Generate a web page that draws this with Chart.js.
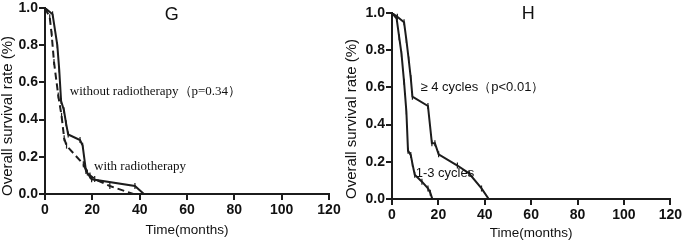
<!DOCTYPE html>
<html><head><meta charset="utf-8">
<script src="https://cdn.jsdelivr.net/npm/chart.js@4/dist/chart.umd.min.js"></script>
<style>
html,body{margin:0;padding:0;background:#fff;}
#wrap{position:relative;width:685px;height:240px;overflow:hidden;}
canvas{position:absolute;top:0;}
</style></head><body>
<div id="wrap">
<canvas id="g" width="345" height="240" style="left:0"></canvas>
<canvas id="h" width="340" height="240" style="left:345px"></canvas>
</div>
<script>
// ---- data ----
const xTicks = [0, 20, 40, 60, 80, 100, 120];
const yTicks = [0.0, 0.2, 0.4, 0.6, 0.8, 1.0];

// Panel G
const gWithoutX = [0, 3.2, 5.2, 6.0, 6.8, 8.0, 8.9, 9.8, 14.8, 15.9, 17.3, 19.7, 38.0, 41.8];
const gWithoutY = [1.0, 0.966, 0.80, 0.67, 0.50, 0.45, 0.38, 0.32, 0.29, 0.26, 0.124, 0.079, 0.043, 0.0];
const gWithX = [0, 2.0, 2.8, 3.8, 5.6, 7.0, 8.1, 9.1, 16.2, 17.9, 19.0, 21.0, 27.4, 37.3];
const gWithY = [1.0, 0.95, 0.86, 0.71, 0.53, 0.42, 0.30, 0.26, 0.16, 0.115, 0.10, 0.08, 0.043, 0.0];

// Panel H
const hLowX = [0, 2.0, 3.1, 4.1, 5.2, 6.2, 6.9, 8.1, 8.8, 9.8, 12.9, 15.5, 16.5, 17.4];
const hLowY = [1.0, 0.97, 0.87, 0.78, 0.63, 0.47, 0.26, 0.236, 0.19, 0.13, 0.093, 0.057, 0.034, 0.0];
const hHighX = [0, 2.3, 5.2, 6.2, 7.2, 8.1, 8.8, 15.5, 17.2, 18.5, 20.1, 28.2, 33.2, 38.6, 41.7];
const hHighY = [1.0, 0.98, 0.95, 0.855, 0.75, 0.65, 0.55, 0.50, 0.30, 0.30, 0.24, 0.18, 0.138, 0.057, 0.0];

const xTitle = 'Time(months)';
const yTitle = 'Overall survival rate (%)';

function pts(xs, ys){ return xs.map((x,i)=>({x:x, y:ys[i]})); }

const INK = '#1c1c1c';

function ds(xs, ys, dashed){
  return {
    data: pts(xs, ys),
    borderColor: INK,
    borderWidth: 2,
    borderDash: dashed ? [7,4] : [],
    tension: 0,
    fill: false,
    pointStyle: 'line',
    rotation: 90,
    pointRadius: (ctx) => (ctx.dataIndex === 0 || ctx.dataIndex === xs.length-1) ? 0 : 3,
    pointBorderWidth: 1.2,
    pointBorderColor: INK,
    pointBackgroundColor: INK
  };
}

// annotation plugin: texts positioned in data coordinates
const textPlugin = {
  id: 'texts',
  afterDraw(chart, args, opts) {
    const ctx = chart.ctx;
    const xs = chart.scales.x, ys = chart.scales.y, ca = chart.chartArea;
    ctx.save();
    ctx.fillStyle = '#111';
    (opts.items || []).forEach(it => {
      ctx.font = it.font;
      ctx.textAlign = it.align || 'left';
      ctx.textBaseline = 'middle';
      ctx.fillText(it.text, xs.getPixelForValue(it.x), ys.getPixelForValue(it.y));
    });
    // axis titles
    ctx.font = '13.5px "Liberation Sans", Arial, sans-serif';
    ctx.textAlign = 'center';
    ctx.textBaseline = 'middle';
    ctx.fillText(xTitle, (ca.left + ca.right)/2, opts.xTitleY);
    ctx.font = '15px "Liberation Sans", Arial, sans-serif';
    ctx.translate(opts.yTitleX, (ca.top + ca.bottom)/2 + opts.yTitleShift);
    ctx.rotate(-Math.PI/2);
    ctx.fillText(yTitle, 0, 0);
    ctx.restore();
  }
};

function makeChart(id, datasets, cfg){
  return new Chart(document.getElementById(id), {
    type: 'line',
    data: { datasets: datasets },
    plugins: [textPlugin],
    options: {
      responsive: false,
      animation: false,
      devicePixelRatio: 1,
      layout: { autoPadding: false, padding: { left: 0, right: cfg.padRight, top: cfg.padTop, bottom: 0 } },
      plugins: { legend: { display: false }, tooltip: { enabled: false }, texts: cfg.texts },
      scales: {
        x: {
          type: 'linear', min: 0, max: 120,
          afterBuildTicks: (s) => { s.ticks = xTicks.map(v => ({value: v})); },
          afterFit: (s) => { s.height = cfg.xHeight; },
          grid: { display: true, drawOnChartArea: false, drawTicks: true, tickLength: 6, color: INK, lineWidth: 2 },
          border: { display: true, color: INK, width: 2 },
          ticks: { color: '#111', padding: 3, maxRotation: 0, font: { family: '"Liberation Sans", Arial, sans-serif', size: 14, weight: 'bold', lineHeight: 1 } }
        },
        y: {
          type: 'linear', min: 0, max: 1,
          afterBuildTicks: (s) => { s.ticks = yTicks.map(v => ({value: v})); },
          afterFit: (s) => { s.width = cfg.yWidth; },
          grid: { display: true, drawOnChartArea: false, drawTicks: true, tickLength: 6, color: INK, lineWidth: 2 },
          border: { display: true, color: INK, width: 2 },
          ticks: { color: '#111', padding: 1, callback: (v) => Number(v).toFixed(1), font: { family: '"Liberation Sans", Arial, sans-serif', size: 14, weight: 'bold', lineHeight: 1 } }
        }
      }
    }
  });
}

makeChart('g', [ds(gWithoutX, gWithoutY, false), ds(gWithX, gWithY, true)], {
  padRight: 16, padTop: 6, xHeight: 46, yWidth: 45,
  texts: {
    xTitleY: 230, yTitleX: 8, yTitleShift: 15,
    items: [
      { text: 'G', x: 53.6, y: 0.963, font: '18px "Liberation Sans", Arial, sans-serif', align: 'center' },
      { text: 'without radiotherapy（p=0.34）', x: 10.5, y: 0.553, font: '13px "Liberation Serif", "Times New Roman", serif' },
      { text: 'with radiotherapy', x: 20.7, y: 0.149, font: '13px "Liberation Serif", "Times New Roman", serif' }
    ]
  }
});

makeChart('h', [ds(hHighX, hHighY, false), ds(hLowX, hLowY, false)], {
  padRight: 11, padTop: 13, xHeight: 41, yWidth: 47,
  texts: {
    xTitleY: 233, yTitleX: 7, yTitleShift: 13,
    items: [
      { text: 'H', x: 58.7, y: 0.995, font: '18px "Liberation Sans", Arial, sans-serif', align: 'center' },
      { text: '≥ 4 cycles（p<0.01）', x: 12.3, y: 0.60, font: '13px "Liberation Sans", Arial, sans-serif' },
      { text: '1-3 cycles', x: 10.2, y: 0.14, font: '13px "Liberation Sans", Arial, sans-serif' }
    ]
  }
});
</script>
</body></html>
